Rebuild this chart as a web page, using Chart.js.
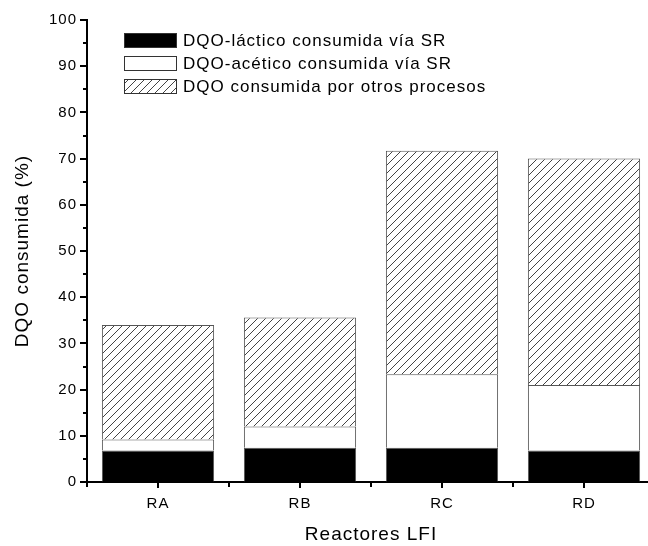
<!DOCTYPE html>
<html lang="es">
<head>
<meta charset="utf-8">
<title>DQO consumida - Reactores LFI</title>
<script src="https://cdn.jsdelivr.net/npm/chart.js@4.4.1/dist/chart.umd.min.js"></script>
<style>
    html, body { margin: 0; padding: 0; background: #fff; overflow: hidden; }
    #wrap { position: relative; width: 662px; height: 546px; }
</style>
</head>
<body>
<div id="wrap"><canvas id="chartDQO" width="662" height="546"></canvas></div>
<script>
// Datos: % de DQO consumida por reactor
const reactores = ['RA', 'RB', 'RC', 'RD'];
const dqoLactico = [6.8, 7.4, 7.4, 6.8];
const dqoAcetico = [2.4, 4.6, 15.9, 14.2];
const dqoOtros = [24.8, 23.6, 48.4, 49.0];
const ticksY = [0, 10, 20, 30, 40, 50, 60, 70, 80, 90, 100];

const etiquetas = [
    'DQO-láctico consumida vía SR',
    'DQO-acético consumida vía SR',
    'DQO consumida por otros procesos'
];

const fuente = 'Arial, "Liberation Sans", sans-serif';

// Trama de rayas diagonales para "otros procesos"
function crearRayado() {
    const c = document.createElement('canvas');
    c.width = 8;
    c.height = 8;
    const g = c.getContext('2d');
    g.fillStyle = '#fff';
    g.fillRect(0, 0, 8, 8);
    g.strokeStyle = '#444';
    g.lineWidth = 1;
    g.beginPath();
    g.moveTo(0, 8); g.lineTo(8, 0);
    g.moveTo(-1, 1); g.lineTo(1, -1);
    g.moveTo(7, 9); g.lineTo(9, 7);
    g.stroke();
    return g.createPattern(c, 'repeat');
}

// Texto algo espaciado, como en el original
const espaciado = {
    id: 'espaciado',
    beforeDraw(chart) {
        chart.ctx.letterSpacing = '1px';
    }
};

// Marcas de los ejes (mayores y menores) hacia fuera
const marcasEjes = {
    id: 'marcasEjes',
    afterDraw(chart) {
        const ctx = chart.ctx;
        const y = chart.scales.y;
        const x = chart.scales.x;
        ctx.save();
        ctx.strokeStyle = '#000';
        ctx.lineWidth = 2;
        ctx.beginPath();
        for (let v = 0; v <= 100; v += 5) {
            const py = Math.round(y.getPixelForValue(v));
            const largo = (v % 10 === 0) ? 7 : 4;
            ctx.moveTo(y.right - largo, py);
            ctx.lineTo(y.right, py);
        }
        const centros = reactores.map((_, i) => x.getPixelForValue(i));
        const paso = centros[1] - centros[0];
        centros.forEach(cx => {
            ctx.moveTo(Math.round(cx), x.top);
            ctx.lineTo(Math.round(cx), x.top + 6);
        });
        for (let i = 0; i <= centros.length; i++) {
            const bx = Math.round(centros[0] - paso / 2 + i * paso);
            ctx.moveTo(bx, x.top);
            ctx.lineTo(bx, x.top + 5);
        }
        ctx.stroke();
        ctx.restore();
    }
};

// Leyenda dibujada dentro del área del gráfico
const leyendaInterna = {
    id: 'leyendaInterna',
    afterDraw(chart, args, opts) {
        const ctx = chart.ctx;
        const area = chart.chartArea;
        ctx.save();
        ctx.font = opts.font;
        ctx.textBaseline = 'middle';
        chart.data.datasets.forEach((ds, i) => {
            const bx = area.left + opts.x;
            const by = area.top + opts.y + i * opts.fila;
            ctx.fillStyle = ds.backgroundColor;
            ctx.fillRect(bx, by, opts.ancho, opts.alto);
            ctx.strokeStyle = '#333';
            ctx.lineWidth = 1;
            ctx.strokeRect(bx + 0.5, by + 0.5, opts.ancho - 1, opts.alto - 1);
            ctx.fillStyle = '#000';
            ctx.fillText(ds.label, bx + opts.ancho + 6, by + opts.alto / 2 + 1);
        });
        ctx.restore();
    }
};

function crearGraficoDQO() {
    const canvas = document.getElementById('chartDQO');
    if (!canvas) return;

    const rayado = crearRayado();
    const comunes = {
        borderColor: '#555',
        borderWidth: 1,
        categoryPercentage: 0.79,
        barPercentage: 1
    };

    try {
        new Chart(canvas, {
            type: 'bar',
            data: {
                labels: reactores,
                datasets: [
                    { label: etiquetas[0], data: dqoLactico, backgroundColor: '#000', ...comunes },
                    { label: etiquetas[1], data: dqoAcetico, backgroundColor: '#fff', ...comunes },
                    { label: etiquetas[2], data: dqoOtros, backgroundColor: rayado, ...comunes }
                ]
            },
            options: {
                responsive: false,
                animation: false,
                layout: { padding: { top: 20, right: 7, bottom: 0, left: 0 } },
                plugins: {
                    legend: { display: false },
                    tooltip: { enabled: false },
                    leyendaInterna: { x: 37, y: 13, fila: 23, ancho: 53, alto: 15, font: '17px ' + fuente }
                },
                scales: {
                    x: {
                        stacked: true,
                        afterFit: s => { s.height = 64; },
                        grid: { display: true, drawOnChartArea: false, drawTicks: false },
                        border: { display: true, color: '#000', width: 2 },
                        ticks: { color: '#000', padding: 13, font: { family: fuente, size: 15 } },
                        title: {
                            display: true,
                            text: 'Reactores LFI',
                            color: '#000',
                            padding: 0,
                            font: { family: fuente, size: 19 }
                        }
                    },
                    y: {
                        stacked: true,
                        min: 0,
                        max: 100,
                        afterFit: s => { s.width = 87; },
                        afterBuildTicks: s => { s.ticks = ticksY.map(v => ({ value: v })); },
                        grid: { display: true, drawOnChartArea: false, drawTicks: false },
                        border: { display: true, color: '#000', width: 2 },
                        ticks: { color: '#000', padding: 10, font: { family: fuente, size: 15 } },
                        title: {
                            display: true,
                            text: 'DQO consumida (%)',
                            color: '#000',
                            padding: { top: 11, bottom: 0 },
                            font: { family: fuente, size: 19 }
                        }
                    }
                }
            },
            plugins: [espaciado, marcasEjes, leyendaInterna]
        });
    } catch (error) {
        console.error('Error en el gráfico DQO:', error);
    }
}

crearGraficoDQO();
</script>
</body>
</html>
